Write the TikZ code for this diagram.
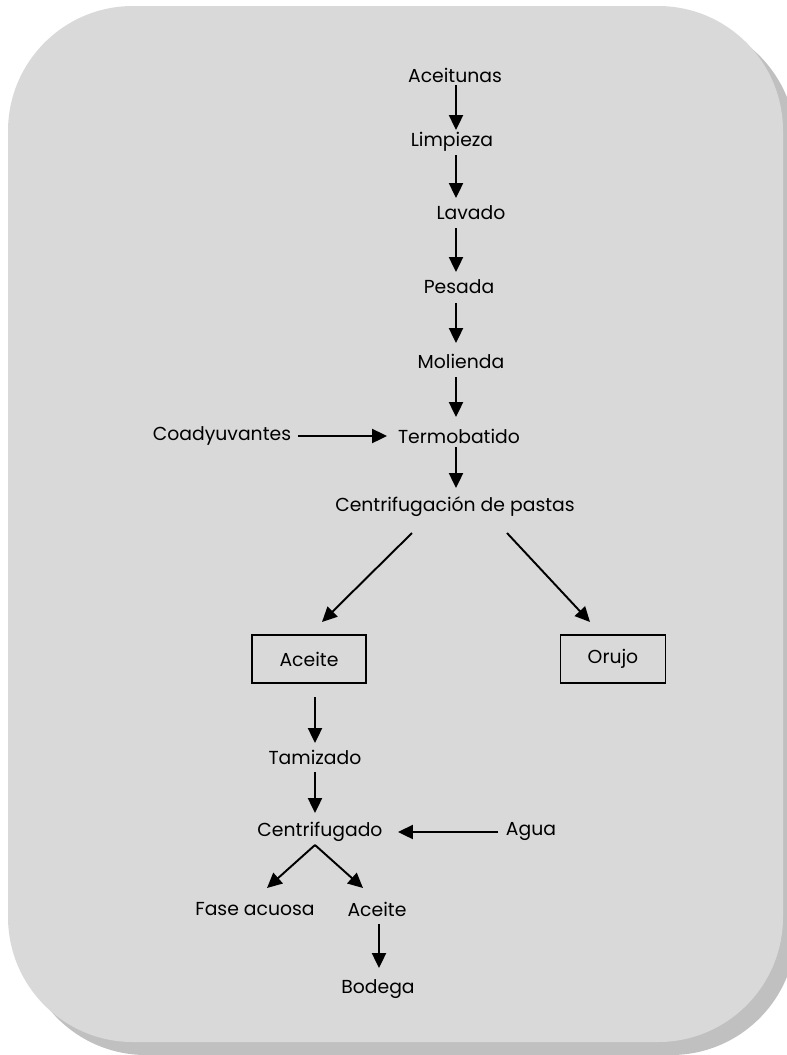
\documentclass[tikz,border=0pt]{standalone}
\usepackage{fontspec}
\setmainfont{Poppins}
\usetikzlibrary{arrows.meta}
\definecolor{fondo}{HTML}{D9D9D9}
\definecolor{sombra}{HTML}{C0C0C0}

\begin{document}
\begin{tikzpicture}[x=0.02cm, y=-0.02cm,
		etapa/.style={font=\fontsize{10.7}{13}\selectfont, inner sep=2pt},
		caja/.style={etapa, draw, line width=1pt, minimum height=0.96cm},
		flecha/.style={line width=1.1pt, -{Triangle[length=8.5pt, width=8pt]}}]
			%%%%% START %%%%%
			
			\useasboundingbox (0, 0) rectangle (787, 1055);
			\clip (0, 0) rectangle (787, 1055);
			
			\fill[sombra, rounded corners=2.5cm] (21, 19) rectangle (796, 1055);
			\fill[fondo, rounded corners=2.5cm] (8, 6) rectangle (783, 1042);
			
			\node[etapa] (aceitunas) at (455, 75) {Aceitunas};
			\node[etapa] (limpieza) at (452, 142) {Limpieza};
			\node[etapa] (lavado) at (471, 213) {Lavado};
			\node[etapa] (pesada) at (459, 287) {Pesada};
			\node[etapa] (molienda) at (461, 361) {Molienda};
			\node[etapa] (termobatido) at (459, 436) {Termobatido};
			\node[etapa] (coadyuvantes) at (222, 436) {Coadyuvantes};
			\node[etapa] (centpastas) at (455, 507) {Centrifugación de pastas};
			
			\draw[flecha] ([shift={(1, 10)}]aceitunas.center) -- ([shift={(4, -12)}]limpieza.center);
			\draw[flecha] ([shift={(4, 13)}]limpieza.center) -- ([shift={(-15, -15)}]lavado.center);
			\draw[flecha] ([shift={(-15, 15)}]lavado.center) -- ([shift={(-3, -15)}]pesada.center);
			\draw[flecha] ([shift={(-3, 16)}]pesada.center) -- ([shift={(-5, -18)}]molienda.center);
			\draw[flecha] ([shift={(-5, 16)}]molienda.center) -- ([shift={(-3, -19)}]termobatido.center);
			\draw[flecha] ([shift={(-3, 11)}]termobatido.center) -- ([shift={(1, -19)}]centpastas.center);
			\draw[flecha] ([shift={(76, 0)}]coadyuvantes.center) -- ([shift={(-72, 0)}]termobatido.center);
			
			\node[caja, minimum width=2.28cm] (aceite) at (309, 659) {Aceite};
			\node[caja, minimum width=2.1cm] (orujo) at (613, 659) {Orujo};
			
			\draw[flecha] ([shift={(-43, 26)}]centpastas.center) -- ([shift={(13, -37)}]aceite.center);
			\draw[flecha] ([shift={(52, 26)}]centpastas.center) -- ([shift={(-23, -37)}]orujo.center);
			
			\node[etapa] (tamizado) at (315, 757) {Tamizado};
			\node[etapa] (centrifugado) at (320, 832) {Centrifugado};
			\node[etapa] (agua) at (531, 832) {Agua};
			\node[etapa] (fase) at (255, 909) {Fase acuosa};
			\node[etapa] (aceitefinal) at (377, 909) {Aceite};
			\node[etapa] (bodega) at (378, 989) {Bodega};
			
			\draw[flecha] ([shift={(6, 38)}]aceite.center) -- ([shift={(0, -14)}]tamizado.center);
			\draw[flecha] ([shift={(0, 15)}]tamizado.center) -- ([shift={(-5, -19)}]centrifugado.center);
			\draw[flecha] ([shift={(-33, 0)}]agua.center) -- ([shift={(78, 0)}]centrifugado.center);
			\coordinate (vertice) at ([shift={(-5, 13)}]centrifugado.center);
			\draw[flecha] (vertice) -- ([shift={(12, -21)}]fase.center);
			\draw[flecha] (vertice) -- ([shift={(-14, -21)}]aceitefinal.center);
			\draw[flecha] ([shift={(2, 15)}]aceitefinal.center) -- ([shift={(1, -21)}]bodega.center);
			
			%%%%% END %%%%%
\end{tikzpicture}
\end{document}
